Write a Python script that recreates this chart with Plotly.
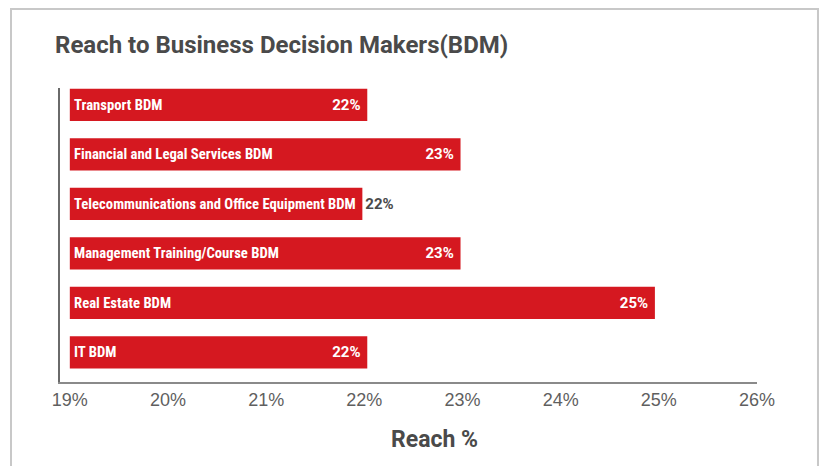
import plotly.graph_objects as go

categories = [
    "IT BDM",
    "Real Estate BDM",
    "Management Training/Course BDM",
    "Telecommunications and Office Equipment BDM",
    "Financial and Legal Services BDM",
    "Transport BDM",
]
values = [22.03, 24.96, 22.98, 21.98, 22.98, 22.03]
value_labels = ["22%", "25%", "23%", "22%", "23%", "22%"]
label_positions = ["inside", "inside", "inside", "outside", "inside", "inside"]
tick_values = [19, 20, 21, 22, 23, 24, 25, 26]
tick_labels = ["19%", "20%", "21%", "22%", "23%", "24%", "25%", "26%"]
base_value = 19

RED = "#d51820"
COND = "Roboto Condensed, Open Sans Condensed, sans-serif"
WIDE = "Roboto, Liberation Sans, sans-serif"

fig = go.Figure()
fig.add_trace(go.Bar(
    y=categories,
    x=[v - base_value for v in values],
    base=base_value,
    orientation="h",
    marker=dict(color=RED, line=dict(width=0)),
    width=0.65,
    text=[t + " " for t in value_labels],
    textposition=label_positions,
    insidetextanchor="end",
    textangle=0,
    constraintext="none",
    insidetextfont=dict(family=WIDE, size=15, color="white", weight="bold"),
    outsidetextfont=dict(family=WIDE, size=15, color="#4a4a4a", weight="bold"),
    cliponaxis=False,
    hoverinfo="skip",
))

for cat in categories:
    fig.add_annotation(
        x=base_value, y=cat, xref="x", yref="y",
        text=cat, showarrow=False, xanchor="left", yanchor="middle",
        xshift=2,
        font=dict(family=COND, size=14.7, color="white", weight="bold"),
    )

fig.add_annotation(
    x=0.5366, y=-0.194, xref="paper", yref="paper",
    text="Reach %", showarrow=False, xanchor="center", yanchor="middle",
    font=dict(family=WIDE, size=23, color="#4a4a4a", weight="bold"),
)

fig.add_shape(
    type="rect", xref="paper", yref="paper",
    x0=-0.0703, x1=1.0875, y0=-0.35, y1=1.2687,
    line=dict(color="#c8c8c8", width=2), fillcolor="rgba(0,0,0,0)",
    layer="below",
)

fig.update_layout(
    width=819, height=466,
    margin=dict(l=60, r=62, t=88, b=84),
    paper_bgcolor="white", plot_bgcolor="white",
    showlegend=False,
    title=dict(
        text="Reach to Business Decision Makers(BDM)",
        x=55 / 819, xanchor="left", y=1 - 45 / 466, yanchor="middle",
        xref="container", yref="container",
        font=dict(family=WIDE, size=24, color="#4a4a4a", weight="bold"),
    ),
    bargap=0.35,
    xaxis=dict(
        range=[18.9, 26.0],
        tickvals=tick_values, ticktext=tick_labels,
        showgrid=False, zeroline=False,
        showline=True, linecolor="#8a8a8a", linewidth=2,
        ticks="", ticklabelstandoff=0,
        tickfont=dict(family="Liberation Sans, Arial, sans-serif", size=18, color="#5f5f5f"),
    ),
    yaxis=dict(
        range=[-0.6, 5.34],
        showticklabels=False, showgrid=False, zeroline=False,
        showline=True, linecolor="#6a6a6a", linewidth=2,
        ticks="",
    ),
)

fig.write_html("out.html")
